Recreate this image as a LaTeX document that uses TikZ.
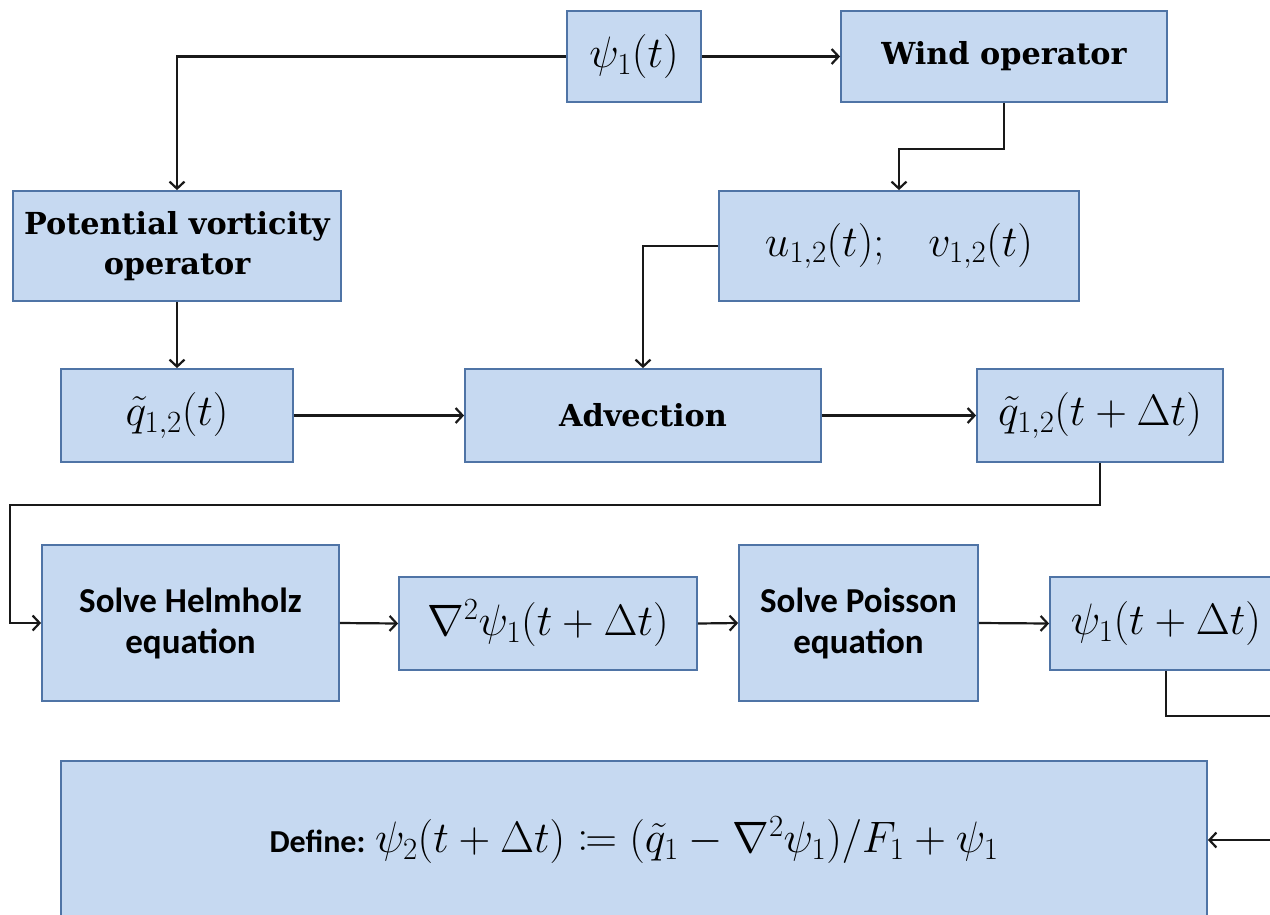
\documentclass[tikz,border=0pt]{standalone}
\usepackage{fix-cm}
\usepackage{fontspec}
\usepackage{mathtools}
\usetikzlibrary{arrows.meta}
\newfontfamily\dvs{DejaVu Serif}
\newfontfamily\carl{Carlito}
\definecolor{boxfill}{RGB}{198,217,241}
\definecolor{boxedge}{RGB}{79,116,166}
\definecolor{lineclr}{RGB}{25,25,25}
\newcommand{\mth}{\fontsize{44}{48}\selectfont}
\newcommand{\srf}{\dvs\bfseries\fontsize{30.3}{40}\selectfont}
\newcommand{\sns}{\carl\bfseries\fontsize{35}{41}\selectfont}
\newcommand{\snsd}{\carl\bfseries\fontsize{32}{41}\selectfont}
\begin{document}
\begin{tikzpicture}[x=1pt,y=-1pt,
  box/.style={draw=boxedge, fill=boxfill, line width=1.8pt, inner sep=0pt, align=center},
  bsize/.style 2 args={minimum width=#1pt, minimum height=#2pt},
  conn/.style={draw=lineclr, line width=2.2pt, line join=miter, -{Straight Barb[length=7pt,width=15pt,line width=2.2pt]}}]
\useasboundingbox (0,0) rectangle (1270,914);
\clip (0,0) rectangle (1270,914);
% nodes
\node[box, bsize={134}{91}, font=\mth]  (psi)  at (634,56.5)   {$\psi_1(t)$};
\node[box, bsize={326}{91}, font=\srf]  (wind) at (1004,56.5)  {Wind operator};
\node[box, bsize={328}{110}, font=\srf] (pv)   at (177,246)    {Potential vorticity\\operator};
\node[box, bsize={360}{110}, font=\mth] (uv)   at (899,246)    {$u_{1,2}(t);\;\;\; v_{1,2}(t)$};
\node[box, bsize={232}{93}, font=\mth]  (q)    at (177,415.5)  {$\tilde{q}_{1,2}(t)$};
\node[box, bsize={356}{93}, font=\srf]  (adv)  at (643,415.5)  {Advection};
\node[box, bsize={246}{93}, font=\mth]  (qd)   at (1100,415.5) {$\tilde{q}_{1,2}(t+\Delta t)$};
\node[box, bsize={297}{156}, font=\sns] (helm) at (190.5,623)  {Solve Helmholz\\equation};
\node[box, bsize={298}{93}, font=\mth]  (nab)  at (548,623.5)  {$\nabla^2\psi_1(t+\Delta t)$};
\node[box, bsize={239}{156}, font=\sns] (poi)  at (858.5,623)  {Solve Poisson\\equation};
\node[box, bsize={232}{93}, font=\mth]  (psib) at (1166,623.5) {$\psi_1(t+\Delta t)$};
\node[box, bsize={1146}{158}, font=\snsd] (def) at (634,840)   {Define: {\mth$\psi_2(t+\Delta t)\coloneqq(\tilde{q}_1-\nabla^2\psi_1)/F_1+\psi_1$}};
% helper coordinates
\coordinate (lp) at (10,505);
\coordinate (rp) at (1300,716);
% connectors
\draw[conn] (psi.west) -| (pv.north);
\draw[conn] (psi.east) -- (wind.west);
\draw[conn] (wind.south) -- ++(0,46) -| (uv.north);
\draw[conn] (uv.west) -| (adv.north);
\draw[conn] (pv.south) -- (q.north);
\draw[conn] (q.east) -- (adv.west);
\draw[conn] (adv.east) -- (qd.west);
\draw[conn] (qd.south) |- (lp) |- (helm.west);
\draw[conn] (helm.east) -- (nab.west);
\draw[conn] (nab.east) -- (poi.west);
\draw[conn] (poi.east) -- (psib.west);
\draw[conn] (psib.south) |- (rp) |- (def.east);
\end{tikzpicture}
\end{document}
